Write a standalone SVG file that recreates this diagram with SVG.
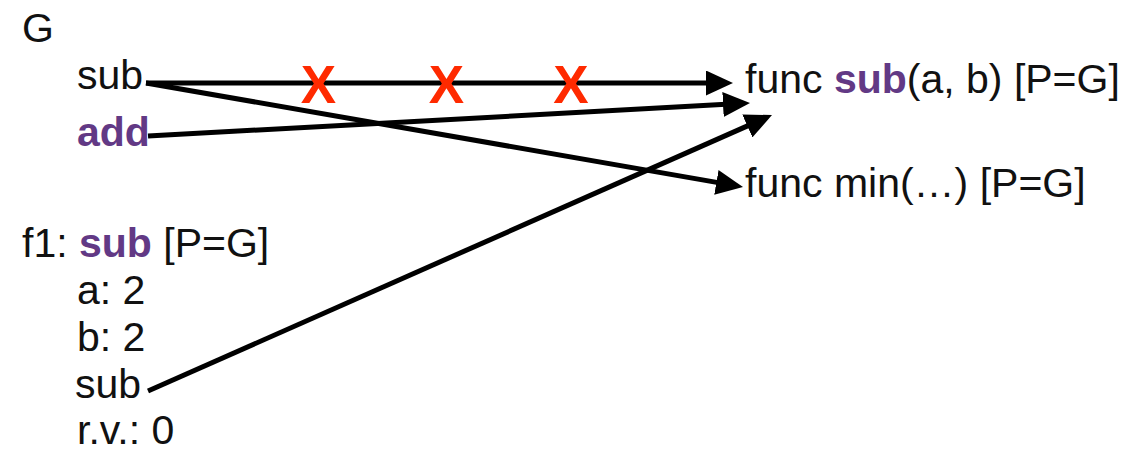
<svg xmlns="http://www.w3.org/2000/svg" width="1148" height="453" viewBox="0 0 1148 453">
<style>
text{font-family:"Liberation Sans",Arial,sans-serif;font-size:41px;fill:#111}
.b{font-weight:bold;fill:#623985}
.x{font-weight:bold;font-size:53px;fill:#ff2a00;text-anchor:middle}
.c{stroke:#000;stroke-width:5;fill:none;marker-end:url(#ah)}
</style>
<defs>
<marker id="ah" markerUnits="userSpaceOnUse" markerWidth="27" markerHeight="25" viewBox="0 0 27 25" refX="12" refY="12.5" orient="auto">
<path d="M0,0 L27,12.5 L0,25 z" fill="#000"/>
</marker>
</defs>
<rect width="1148" height="453" fill="#fff"/>
<g id="global-frame">
<text x="22" y="42">G</text>
</g>
<g id="g-sub"><text x="77" y="89">sub</text></g>
<g id="g-add"><text x="77" y="146" class="b">add</text></g>
<g id="func-sub"><text x="745" y="93">func <tspan class="b">sub</tspan>(a, b) [P=G]</text></g>
<g id="func-min"><text x="745" y="197">func min(…) [P=G]</text></g>
<g id="f1-frame">
<text x="22" y="257">f1: <tspan class="b">sub</tspan> [P=G]</text>
<text x="77" y="304">a: 2</text>
<text x="77" y="351">b: 2</text>
<text x="75" y="398">sub</text>
<text x="77" y="444">r.v.: 0</text>
</g>
<g id="connectors">
<line class="c" x1="146" y1="83" x2="718" y2="83"/>
<line class="c" x1="146" y1="83" x2="728.2" y2="184.4"/>
<line class="c" x1="148" y1="136" x2="735" y2="103.8"/>
<line class="c" x1="148" y1="391" x2="758.3" y2="121.1"/>
</g>
<g id="crosses">
<text class="x" x="318.5" y="103">X</text>
<text class="x" x="446.5" y="103">X</text>
<text class="x" x="571" y="103">X</text>
</g>
</svg>
